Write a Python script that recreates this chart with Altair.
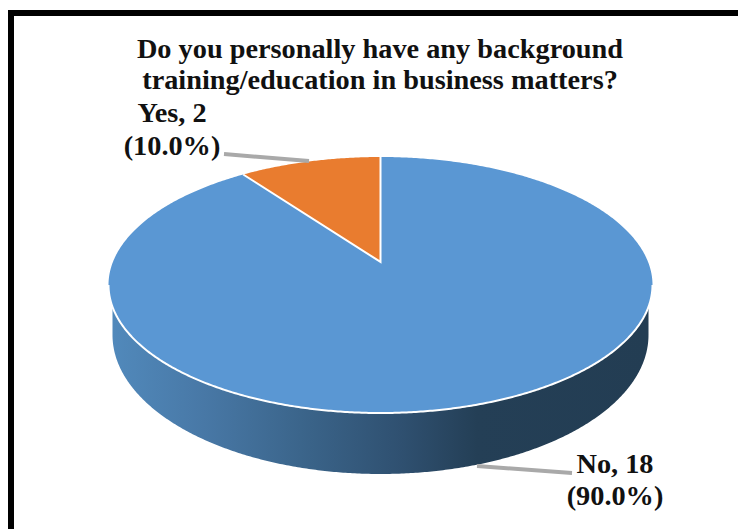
import altair as alt
import numpy as np
import pandas as pd

# Survey answers
answers = ["No", "Yes"]
counts = [18, 2]
title_lines = [
    "Do you personally have any background",
    "training/education in business matters?",
]

W, H = 738, 529
SERIF = "Liberation Serif"

# Tilted pie geometry: top face ellipse, how far its hub sits above centre, base ellipse
CX, CY, RX, RY = 380.5, 285.0, 272.0, 128.0
TILT = 0.18
BASE_CY, BASE_RX, BASE_RY = 335.0, 268.0, 139.0

x_scale = alt.Scale(domain=[0, W], nice=False, zero=False)
y_scale = alt.Scale(domain=[H, 0], nice=False, zero=False)
X = alt.X("x:Q", scale=x_scale, axis=None)
Y = alt.Y("y:Q", scale=y_scale, axis=None)
Y2 = alt.Y2("y2:Q")


def project(theta):
    """Map a pie angle (radians, clockwise from 12 o'clock) onto the tilted top face."""
    u, v = np.sin(theta), np.cos(theta)
    d = 1 + TILT * v
    return (
        CX + RX * u * np.sqrt(1 - TILT**2) / d,
        CY - RY * (v + TILT) / d,
    )


share_yes = counts[1] / sum(counts)
tip_x, tip_y = project(-2 * np.pi * share_yes)
apex_x, apex_y = CX, CY - RY * TILT
top_x, top_y = CX, CY - RY


def rim(x, sign):
    return CY + sign * RY * np.sqrt(np.clip(1 - ((x - CX) / RX) ** 2, 0, 1))


# Top face of the "No" slice: full ellipse with the "Yes" wedge notched out
phi = np.linspace(-np.pi / 2, np.pi / 2, 361)
face_x = np.sort(np.concatenate([CX + RX * np.sin(phi), [tip_x]]))
left = face_x[face_x <= tip_x]
mid = np.linspace(tip_x, apex_x, 40)[1:]
right = face_x[face_x >= apex_x]
no_x = np.concatenate([left, mid, right])
no_top = np.concatenate(
    [
        rim(left, -1),
        np.interp(mid, [tip_x, apex_x], [tip_y, apex_y]),
        rim(right, -1),
    ]
)
no_face = pd.DataFrame({"x": no_x, "y": no_top, "y2": rim(no_x, 1)})

# Top face of the "Yes" slice
yes_theta = np.linspace(-2 * np.pi * share_yes, 0, 80)
yes_x, yes_y = project(yes_theta)
yes_face = pd.DataFrame(
    {
        "x": yes_x,
        "y": yes_y,
        "y2": np.interp(yes_x, [tip_x, apex_x], [tip_y, apex_y]),
    }
)

# Outer wall below the front of the rim
wall_x = BASE_RX * np.sin(phi) + CX
wall = pd.DataFrame(
    {
        "x": wall_x,
        "y": rim(wall_x, 1),
        "y2": BASE_CY + BASE_RY * np.cos(phi),
    }
)
wall_fill = alt.Gradient(
    gradient="linear",
    x1=0,
    x2=1,
    y1=0,
    y2=0,
    stops=[
        alt.GradientStop(color="#5189bb", offset=0.0),
        alt.GradientStop(color="#4878a6", offset=0.17),
        alt.GradientStop(color="#3b658b", offset=0.35),
        alt.GradientStop(color="#2f5070", offset=0.54),
        alt.GradientStop(color="#243f56", offset=0.68),
        alt.GradientStop(color="#233d53", offset=1.0),
    ],
)

layers = []


def area(df, fill):
    return alt.Chart(df).mark_area(color=fill, interpolate="linear").encode(x=X, y=Y, y2=Y2)


def path(xs, ys, color, width):
    df = pd.DataFrame({"x": xs, "y": ys, "i": range(len(xs))})
    return (
        alt.Chart(df)
        .mark_line(color=color, strokeWidth=width, interpolate="linear")
        .encode(x=X, y=Y, order="i:Q")
    )


layers.append(area(wall, wall_fill))
layers.append(area(no_face, "#5a97d3"))
layers.append(area(yes_face, "#e97c2f"))

# White rim and wedge edges
front_x = CX + RX * np.sin(phi)
layers.append(path(front_x, rim(front_x, 1), "#ffffff", 2))
layers.append(path([tip_x, apex_x, top_x], [tip_y, apex_y, top_y], "#ffffff", 2))

# Leader lines
layers.append(path([224, 309], [154, 161], "#a9a9a9", 4))
layers.append(path([477, 572], [466, 473], "#a9a9a9", 4))

# Frame along the top and left edges
layers.append(path([8, W], [13, 13], "#000000", 6))
layers.append(path([11, 11], [10, H], "#000000", 6))

# Text
total = sum(counts)
FONT_SIZE = 28.3
texts = pd.DataFrame(
    [
        {"x": 380, "y": 58, "t": title_lines[0]},
        {"x": 380, "y": 89, "t": title_lines[1]},
        {"x": 172, "y": 122, "t": f"{answers[1]}, {counts[1]}"},
        {"x": 172, "y": 155, "t": f"({counts[1] / total:.1%})"},
        {"x": 615, "y": 473, "t": f"{answers[0]}, {counts[0]}"},
        {"x": 615, "y": 505, "t": f"({counts[0] / total:.1%})"},
    ]
)
layers.append(
    alt.Chart(texts)
    .mark_text(
        font=SERIF,
        fontWeight="bold",
        fontSize=FONT_SIZE,
        align="center",
        baseline="alphabetic",
        color="#111111",
    )
    .encode(x=X, y=Y, text="t:N")
)

chart = (
    alt.layer(*layers)
    .properties(width=W, height=H, padding=0, autosize=alt.AutoSizeParams(type="none"), background="#ffffff")
    .configure_view(stroke=None)
)

chart.save("out.html", embed_options={"renderer": "svg", "actions": False})
